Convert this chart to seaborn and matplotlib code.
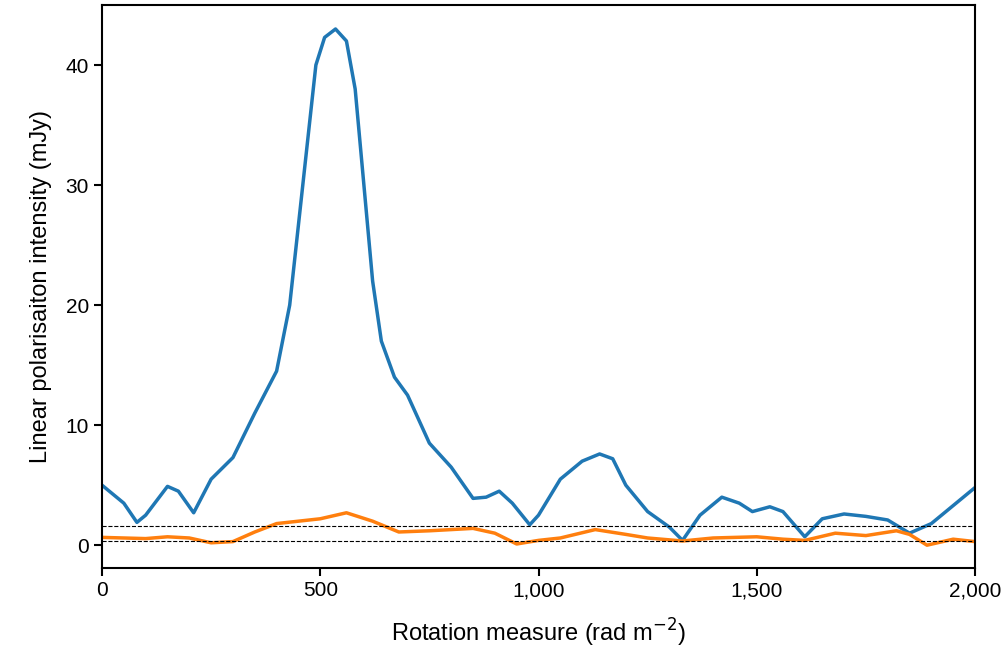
import matplotlib
matplotlib.use("Agg")
import matplotlib.pyplot as plt
import seaborn as sns

blue_x = [0,50,80,100,150,175,210,250,300,350,400,430,460,490,510,535,560,580,600,620,640,670,700,750,800,850,880,910,940,980,1000,1050,1100,1140,1170,1200,1250,1300,1330,1370,1420,1460,1490,1530,1560,1610,1650,1700,1750,1800,1850,1900,1950,2000]
blue_y = [5.0,3.5,1.9,2.5,4.9,4.5,2.7,5.5,7.3,11,14.5,20,30,40,42.3,43,42,38,30,22,17,14,12.5,8.5,6.5,3.9,4.0,4.5,3.5,1.7,2.5,5.5,7,7.6,7.2,5,2.8,1.5,0.4,2.5,4.0,3.5,2.8,3.2,2.8,0.7,2.2,2.6,2.4,2.1,1.0,1.8,3.3,4.8]
orange_x = [0,100,150,200,250,300,350,400,450,500,560,620,680,750,800,850,900,950,1000,1050,1130,1200,1250,1330,1400,1500,1560,1610,1680,1750,1820,1850,1890,1950,2000]
orange_y = [0.65,0.55,0.7,0.6,0.2,0.3,1.1,1.8,2.0,2.2,2.7,2.0,1.1,1.2,1.3,1.4,1.0,0.1,0.4,0.6,1.3,0.9,0.6,0.35,0.6,0.7,0.5,0.4,1.0,0.8,1.2,0.9,0.0,0.5,0.3]
thresholds = [1.6, 0.35]
xticks = [0, 500, 1000, 1500, 2000]
xticklabels = ["0", "500", "1,000", "1,500", "2,000"]

sns.set_theme(style="ticks")
plt.rcParams['font.family'] = ['Liberation Sans', 'DejaVu Sans']
plt.rcParams['text.color'] = 'black'
plt.rcParams['axes.labelcolor'] = 'black'
plt.rcParams['xtick.color'] = 'black'
plt.rcParams['ytick.color'] = 'black'
plt.rcParams['axes.edgecolor'] = 'black'
fig = plt.figure(figsize=(10.08, 6.64), dpi=100)
ax = fig.add_axes([102/1008, 1-568/664, (975-102)/1008, (568-5)/664])
sns.lineplot(x=blue_x, y=blue_y, ax=ax, color="#1f77b4", lw=2.5)
sns.lineplot(x=orange_x, y=orange_y, ax=ax, color="#ff7f0e", lw=2.5)
for t in thresholds:
    ax.axhline(t, color="black", ls="--", lw=0.8)
ax.set_xlim(0, 2000)
ax.set_ylim(-1.9, 45)
ax.set_xticks(xticks)
ax.set_xticklabels(xticklabels)
ax.set_yticks([0, 10, 20, 30, 40])
ax.tick_params(labelsize=15, width=1.5, length=6)
for s in ax.spines.values():
    s.set_linewidth(1.5)
ax.set_xlabel("Rotation measure (rad m$^{-2}$)", fontsize=17, labelpad=12)
ax.set_ylabel("Linear polarisaiton intensity (mJy)", fontsize=17, labelpad=10)
fig.savefig("out.png", dpi=100)
